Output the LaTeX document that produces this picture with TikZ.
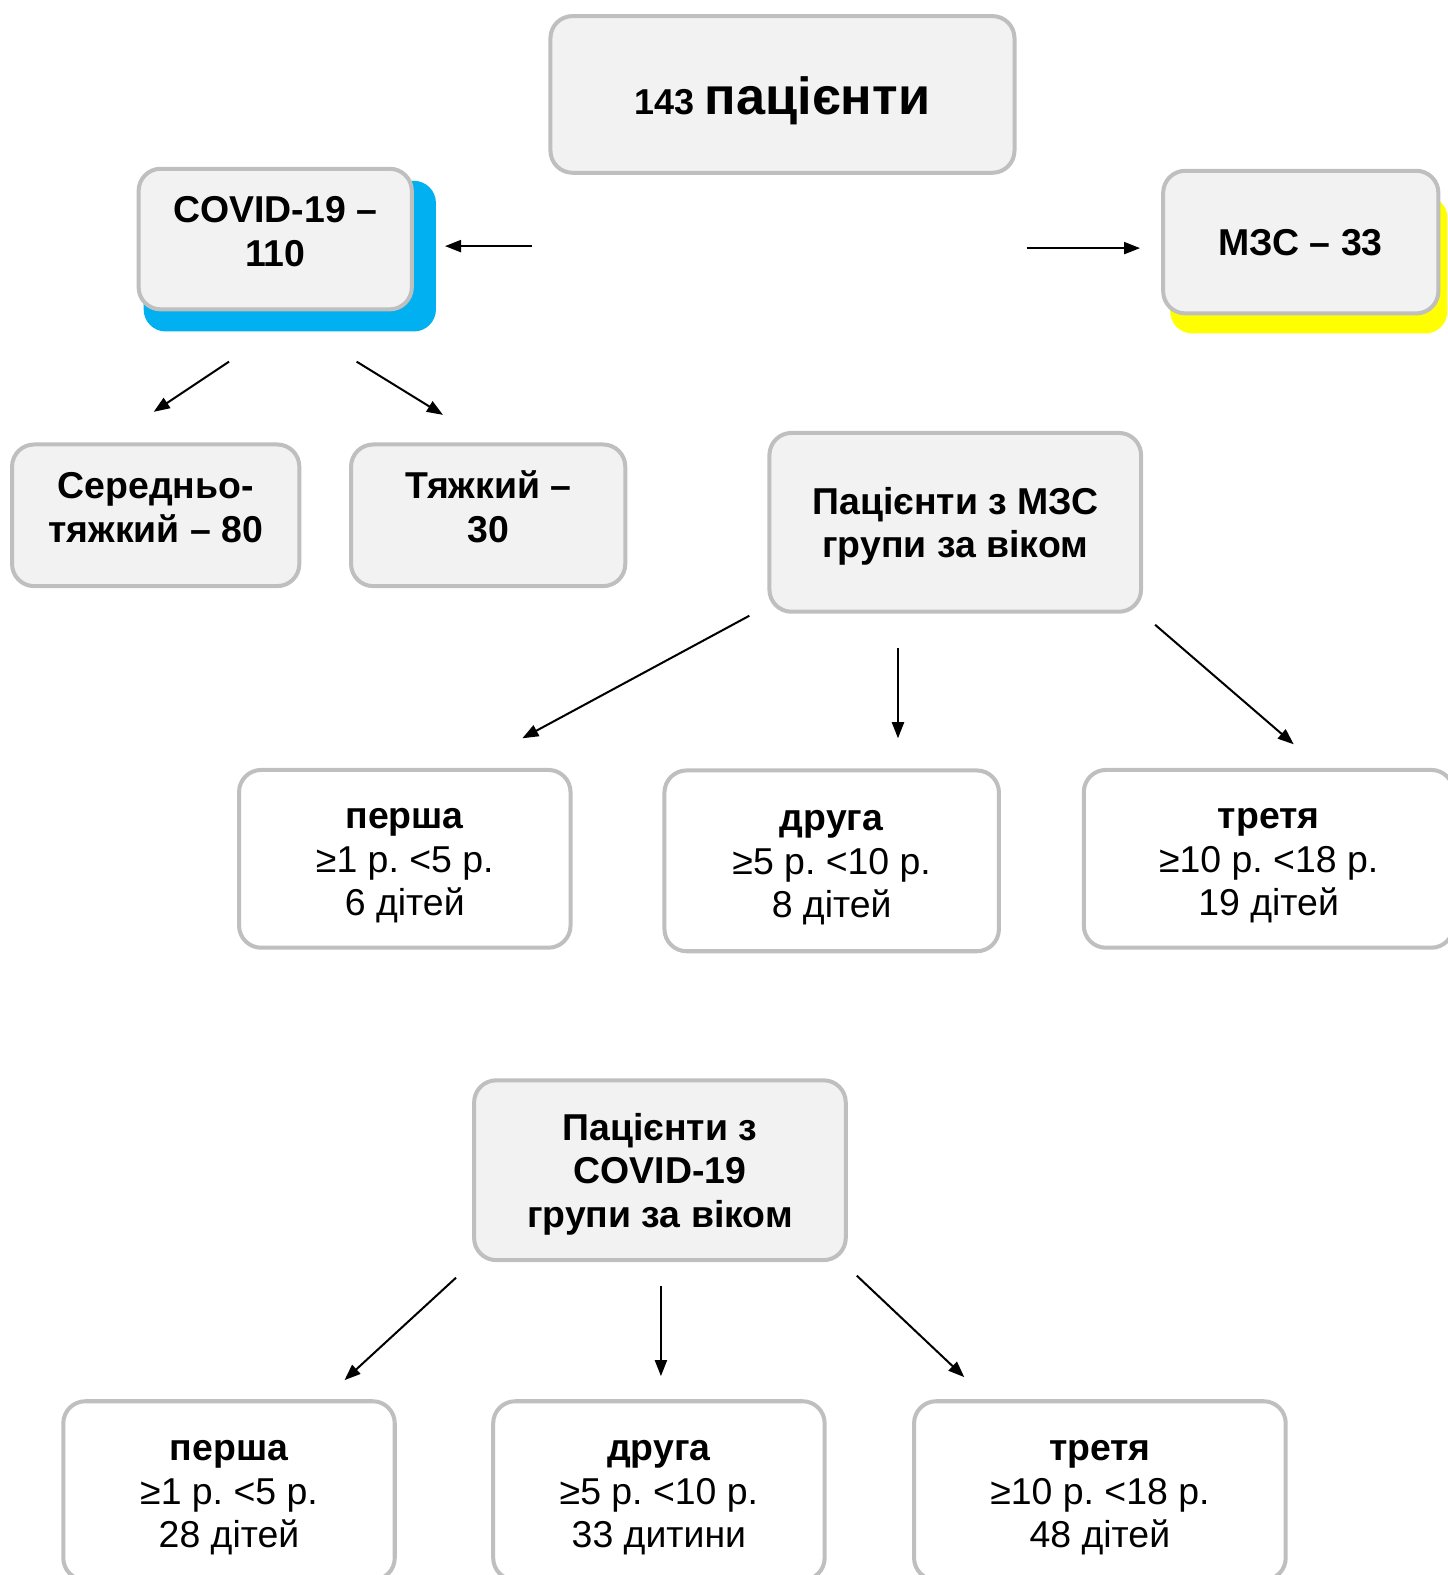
\documentclass[tikz,border=0pt]{standalone}
\usepackage{fontspec}
\setmainfont{Liberation Sans}
\usepackage{xcolor}
\usetikzlibrary{arrows.meta}
\definecolor{boxgrey}{RGB}{191,191,191}
\definecolor{boxfill}{RGB}{242,242,242}
\definecolor{covidblue}{RGB}{0,176,240}
\definecolor{mzsyellow}{RGB}{255,255,0}
\frenchspacing
% struts so that the text sits in the middle of its box
\newcommand{\linestrut}{\rule[-0.21em]{0pt}{1.14em}}
\newcommand{\deepstrut}{\rule[-2.4mm]{0pt}{2.4mm}}

\begin{document}
\begin{tikzpicture}[x=0.1mm, y=-0.1mm,
  greybox/.style={draw=boxgrey, line width=0.4mm, fill=boxfill, rounded corners=2.2mm,
    align=center, font=\fontsize{10.6}{12.3}\selectfont\bfseries},
  whitebox/.style={greybox, fill=white, font=\fontsize{10.6}{12.3}\selectfont},
  arr/.style={-{Triangle[length=1.6mm,width=1.2mm]}, line width=0.2mm}]
\useasboundingbox (0,0) rectangle (1441,1568);

% shadows behind the two totals
\fill[covidblue, rounded corners=2.2mm] (143,180) rectangle (434,330);
\fill[mzsyellow, rounded corners=2.2mm] (1165,195) rectangle (1441,332);

% top level
\node[greybox, minimum width=46.2mm, minimum height=15.6mm] (total) at (779,94)
  {\rule{0pt}{5mm}\fontsize{10.2}{12}\selectfont 143 \fontsize{14.8}{16}\selectfont пацієнти};
\node[greybox, minimum width=27.2mm, minimum height=14mm] (covid) at (274,238) {\linestrut COVID-19 –\\110\deepstrut};
\node[greybox, minimum width=27.4mm, minimum height=14.2mm] (mzs) at (1295,241) {\linestrut МЗС – 33};

% severity
\node[greybox, minimum width=28.6mm, minimum height=14.1mm] (moderate) at (155,513) {\linestrut Середньо-\\тяжкий – 80\deepstrut};
\node[greybox, minimum width=27.3mm, minimum height=14.1mm] (severe) at (486,513) {\linestrut Тяжкий –\\30\deepstrut};

% MZS by age
\node[greybox, minimum width=37mm, minimum height=17.8mm] (mzsage) at (951,520) {\linestrut Пацієнти з МЗС\\групи за віком\linestrut};
\node[whitebox, minimum width=33mm, minimum height=17.7mm] (mzsone) at (403,855) {\linestrut\textbf{перша}\\≥1 р. <5 р.\\6 дітей\linestrut};
\node[whitebox, minimum width=33.3mm, minimum height=18mm] (mzstwo) at (828,857) {\linestrut\textbf{друга}\\≥5 р. <10 р.\\8 дітей\linestrut};
\node[whitebox, minimum width=36.8mm, minimum height=17.7mm] (mzsthree) at (1263,855) {\linestrut\textbf{третя}\\≥10 р. <18 р.\\19 дітей\linestrut};

% COVID by age
\node[greybox, minimum width=37mm, minimum height=17.9mm] (covidage) at (657,1165) {\linestrut Пацієнти з\\COVID-19\\групи за віком\linestrut};
\node[whitebox, minimum width=33mm, minimum height=17.8mm] (covidone) at (228,1484) {\linestrut\textbf{перша}\\≥1 р. <5 р.\\28 дітей\linestrut};
\node[whitebox, minimum width=33mm, minimum height=17.8mm] (covidtwo) at (656,1484) {\linestrut\textbf{друга}\\≥5 р. <10 р.\\33 дитини\linestrut};
\node[whitebox, minimum width=37mm, minimum height=17.8mm] (covidthree) at (1095,1484) {\linestrut\textbf{третя}\\≥10 р. <18 р.\\48 дітей\linestrut};

% arrow ends
\coordinate (a1) at (530,245);  \coordinate (b1) at (443,245);
\coordinate (a2) at (1022,247); \coordinate (b2) at (1135,247);
\coordinate (a3) at (228,360);  \coordinate (b3) at (153,410);
\coordinate (a4) at (355,360);  \coordinate (b4) at (441,413);
\coordinate (a5) at (746,613);  \coordinate (b5) at (520,735);
\coordinate (a6) at (894,645);  \coordinate (b6) at (894,735);
\coordinate (a7) at (1150,622); \coordinate (b7) at (1288,741);
\coordinate (a8) at (454,1272); \coordinate (b8) at (343,1374);
\coordinate (a9) at (658,1280); \coordinate (b9) at (658,1370);
\coordinate (a10) at (853,1270); \coordinate (b10) at (960,1371);

% arrows
\foreach \i in {1,...,10}
  \draw[arr] (a\i) -- (b\i);
\end{tikzpicture}
\end{document}
